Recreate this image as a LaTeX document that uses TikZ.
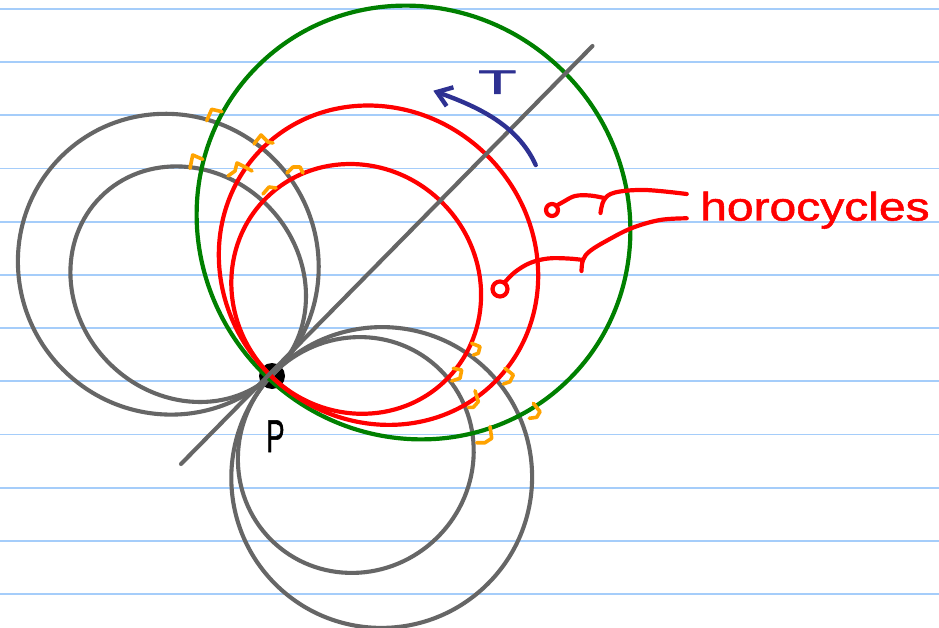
\documentclass[tikz,border=0pt]{standalone}
\usepackage{fontspec}
\setmainfont{Liberation Sans}
\newfontfamily\penfont[FakeBold=1.2]{Liberation Sans}
\usepackage{graphicx}
\usetikzlibrary{arrows.meta}
\definecolor{ruleblue}{RGB}{165,205,250}
\definecolor{penGray}{RGB}{102,102,102}
\definecolor{penRed}{RGB}{255,0,0}
\definecolor{penGreen}{RGB}{0,128,0}
\definecolor{penOrange}{RGB}{255,163,0}
\definecolor{penBlue}{RGB}{46,49,146}
\begin{document}
\begin{tikzpicture}[x=1pt,y=-1pt,
  rulestroke/.style={draw=ruleblue,line width=1.8pt},
  graypen/.style={draw=penGray,line width=4.1pt,line cap=round},
  redpen/.style={draw=penRed,line width=4.2pt,line cap=round,line join=round},
  greenpen/.style={draw=penGreen,line width=4.2pt},
  orangepen/.style={draw=penOrange,line width=3.6pt,line cap=round,line join=round},
  bluepen/.style={draw=penBlue,line width=4.4pt,line cap=round},
  lbl/.style={inner sep=0pt,anchor=base west}]
\useasboundingbox (0,0) rectangle (939,628);
\fill[white] (0,0) rectangle (939,628);
% ruled paper
\foreach \k in {0,...,11}
  \draw[rulestroke] (0,{8.9+53.2*\k}) -- (939,{8.9+53.2*\k});
% point P
\node[circle,fill=black,minimum size=26pt,inner sep=0pt] (P) at (272,376) {};
% gray circles through P
\draw[graypen,rotate around={45:(168.3,264.2)}] (168.3,264.2) ellipse[x radius=149pt,y radius=151.8pt];
\draw[graypen,rotate around={45:(188.2,284.2)}] (188.2,284.2) ellipse[x radius=111.7pt,y radius=123.6pt];
\draw[graypen,rotate around={45:(381.7,477.5)}] (381.7,477.5) ellipse[x radius=150.6pt,y radius=150.2pt];
\draw[graypen,rotate around={45:(355.8,455)}] (355.8,455) ellipse[x radius=119.9pt,y radius=115.9pt];
% green circle
\draw[greenpen,rotate around={45:(413.5,222.5)}] (413.5,222.5) ellipse[x radius=212.9pt,y radius=220.8pt];
% red horocycles
\draw[redpen,rotate around={45:(378.5,265.2)}] (378.5,265.2) ellipse[x radius=154.4pt,y radius=164.8pt];
\draw[redpen,rotate around={45:(356.2,288.9)}] (356.2,288.9) ellipse[x radius=121.8pt,y radius=127.9pt];
% geodesic line
\coordinate (La) at (181,464);
\coordinate (Lb) at (592.5,46);
\draw[graypen] (La) -- (Lb);
% right-angle marks (top)
\draw[orangepen] (206.7,120.7) -- (211.7,109.3) -- (222,111.7);
\draw[orangepen] (190,168.3) -- (192.7,155) -- (202.7,159.3);
\draw[orangepen] (254,144) -- (261,135) -- (268,142) -- (273,143);
\draw[orangepen] (228,176) -- (235,171) -- (237,163) -- (245,167) -- (252,171);
\draw[orangepen] (287,173) -- (293,167) -- (300,167) -- (303,173);
\draw[orangepen] (263,194) -- (269,187) -- (276,188);
% right-angle marks (bottom)
\draw[orangepen] (471.7,343.3) -- (480,346.7) -- (478.3,353.3) -- (473.3,355);
\draw[orangepen] (453.3,368.3) -- (461.7,370) -- (460,378.3) -- (451.7,381);
\draw[orangepen] (505,368.3) -- (513.3,375) -- (510,381.7) -- (503.3,384);
\draw[orangepen] (475,390.7) -- (478.3,401.7) -- (473.3,407.3) -- (468.3,407.3);
\draw[orangepen] (533.3,403.3) -- (540,411.7) -- (536.7,417.3) -- (529.3,418.3);
\draw[orangepen] (490,426.7) -- (491.7,438.3) -- (485,442.7) -- (476.7,442.7);
% arrow T
\coordinate (Ts) at (535.7,165);
\coordinate (Tt) at (433.3,90.7);
\draw[bluepen,-{Straight Barb[length=14pt,width=20pt]}] (Ts) .. controls (517.3,124) and (475.6,106) .. (Tt);
\node[lbl,text=penBlue,font=\penfont\fontsize{34pt}{34pt}\selectfont] (T) at (478,94) {\scalebox{1.85}[1]{T}};
% label P
\node[lbl,font=\penfont\fontsize{46pt}{46pt}\selectfont] (Plbl) at (266,452) {\scalebox{0.6}[1]{P}};
% label horocycles
\node[lbl,text=penRed,font=\penfont\fontsize{40pt}{40pt}\selectfont] (H) at (700,220.5) {\scalebox{1.2}[1]{horocycles}};
% pointers
\coordinate (Ha) at (686.7,194);
\coordinate (Hb) at (686.7,218.3);
\draw[redpen] plot[smooth,tension=0.6] coordinates {(686.7,194) (645,190) (615,192.5) (604,200) (600.5,213)};
\draw[redpen] plot[smooth,tension=0.6] coordinates {(604,198) (590,195.5) (575,196) (563,202) (556,206)};
\draw[redpen] (552,210) circle[radius=6pt];
\draw[redpen] plot[smooth,tension=0.6] coordinates {(686.7,218.3) (660,220) (632,228) (608,240) (590,251) (583,260) (581.5,271)};
\draw[redpen] plot[smooth,tension=0.6] coordinates {(583,260) (568,258.5) (548,258.5) (530,263) (515,272) (505,282)};
\draw[redpen] (500,289) circle[radius=7.5pt];
\end{tikzpicture}
\end{document}
